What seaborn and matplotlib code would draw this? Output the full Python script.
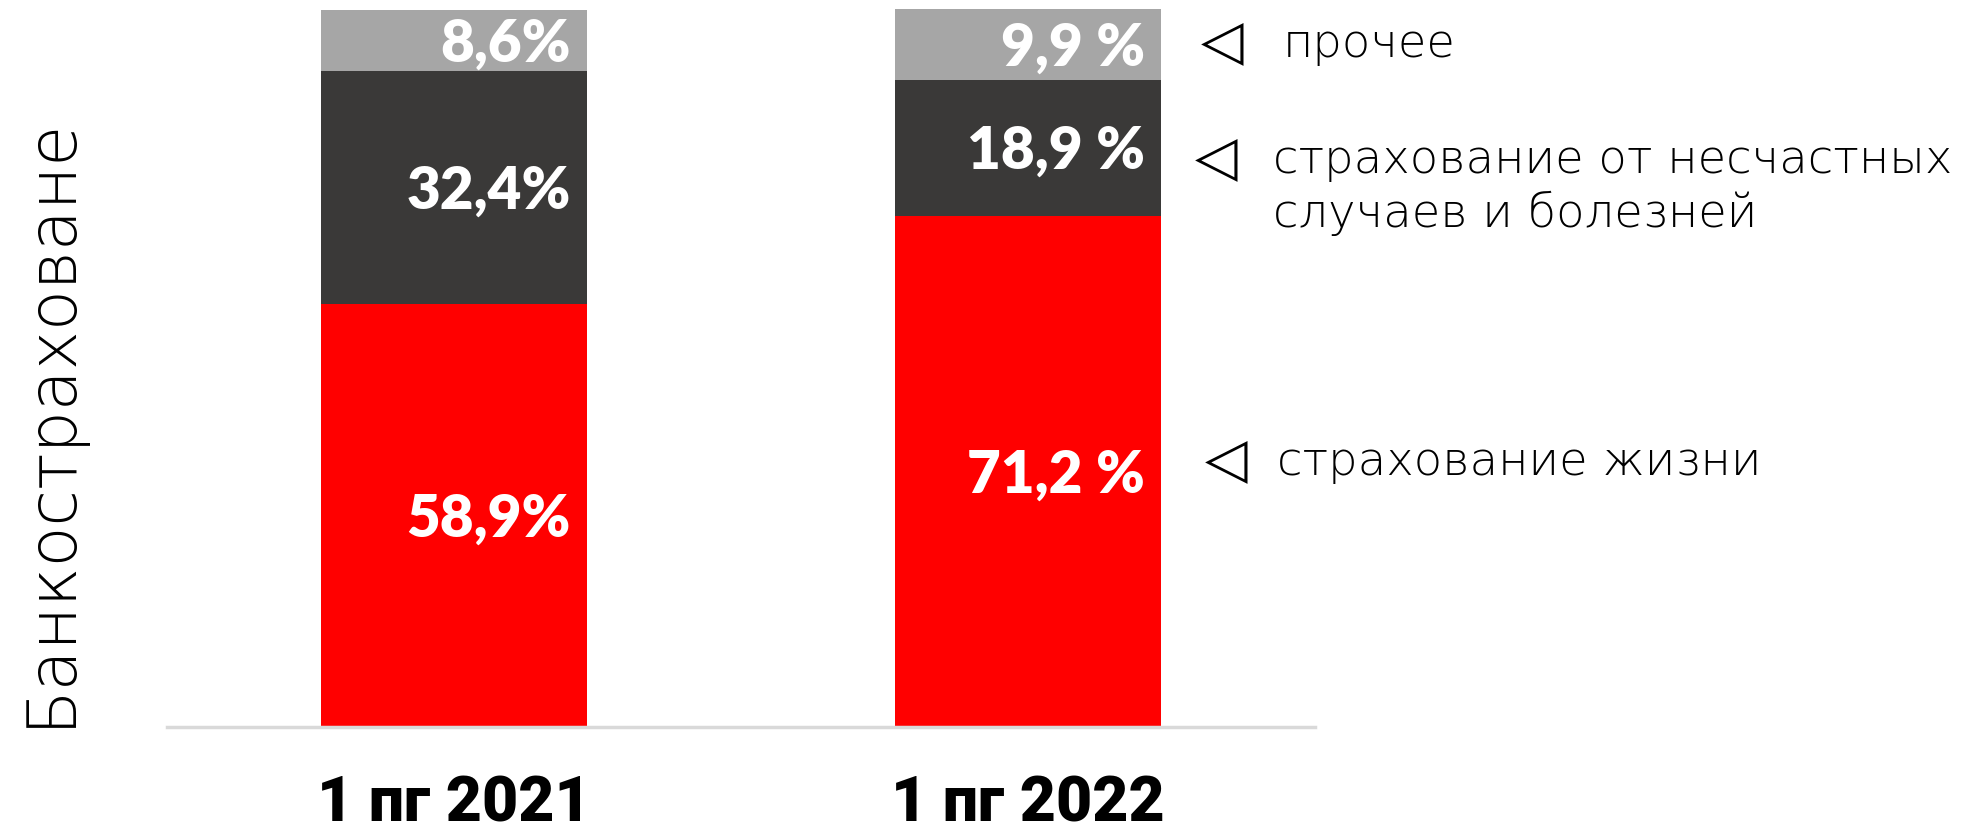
import numpy as np
import pandas as pd
import matplotlib
matplotlib.use("Agg")
import matplotlib.pyplot as plt
import matplotlib.transforms as mtransforms
import seaborn as sns

periods = ["1 пг 2021", "1 пг 2022"]
life = [58.9, 71.2]
accident = [32.4, 18.9]
other = [8.6, 9.9]
pct_suffix = ["%", " %"]
seg_names = ["страхование жизни", "страхование от несчастных\nслучаев и болезней", "прочее"]
ylabel = "Банкостраховане"
colors = ["#ff0000", "#3a3938", "#a6a6a6"]

sns.set_theme(style="white")
plt.rcParams["font.family"] = ["Lato", "DejaVu Sans"]
plt.rcParams["text.color"] = "black"
plt.rcParams["xtick.color"] = "black"

df = pd.DataFrame({"period": periods, "life": life, "accident": accident, "other": other})
df["c1"] = df["life"]
df["c2"] = df["c1"] + df["accident"]
df["c3"] = df["c2"] + df["other"]

fig = plt.figure(figsize=(19.73, 8.35), dpi=100)
ax = fig.add_axes([0.0846, 0.1293, 0.5819, 0.8599])

bw = 0.463
# stacked look: draw cumulative totals from the top segment down
for col, c in zip(["c3", "c2", "c1"], colors[::-1]):
    sns.barplot(data=df, x="period", y=col, color=c, width=bw, saturation=1,
                linewidth=0, ax=ax)

# value labels inside the segments
for i in range(len(periods)):
    vals = [life[i], accident[i], other[i]]
    base = 0
    for v in vals:
        mid = base + v / 2
        ax.text(i + bw / 2 - 0.028, mid - 0.5, f"{v:.1f}".replace(".", ",") + pct_suffix[i],
                ha="right", va="center", color="white", fontsize=42, fontweight="heavy")
        base += v

ax.set_xlim(-0.5, 1.5)
ax.set_ylim(0, 100)
ax.set_xlabel("")
ax.set_ylabel("")
ax.set_yticks([])
for s in ["top", "left", "right"]:
    ax.spines[s].set_visible(False)
ax.spines["bottom"].set_color("#d9d9d9")
ax.spines["bottom"].set_linewidth(2.5)
ax.tick_params(axis="x", length=0, pad=34)
ax.set_xticks(range(len(periods)))
ax.set_xticklabels(periods, fontsize=45, fontweight="black", family="Roboto")

fig.text(0.0253, (835 - 727) / 835, ylabel, rotation=90, ha="center", va="bottom",
         fontsize=48, fontweight=200, family="DejaVu Sans")

# side annotations, aligned with the segments of the last bar
tr = mtransforms.blended_transform_factory(fig.transFigure, ax.transData)
ann_y = [36.9, 79.0, 95.1]
tri_x = [1205 / 1973, 1195 / 1973, 1201 / 1973]
txt_x = [1277 / 1973, 1273 / 1973, 1283 / 1973]
for name, y, tx, lx in zip(seg_names, ann_y, tri_x, txt_x):
    ax.text(tx, y, "◁", transform=tr, ha="left", va="center", fontsize=40,
            family="DejaVu Sans", fontweight="bold", color="black")
    two = "\n" in name
    ax.text(lx, y + (3.0 if two else 0), name, transform=tr, ha="left",
            va="top" if two else "center", fontsize=33.5, fontweight=200,
            family="DejaVu Sans", linespacing=1.22, color="black")

fig.savefig("out.png", dpi=100)
